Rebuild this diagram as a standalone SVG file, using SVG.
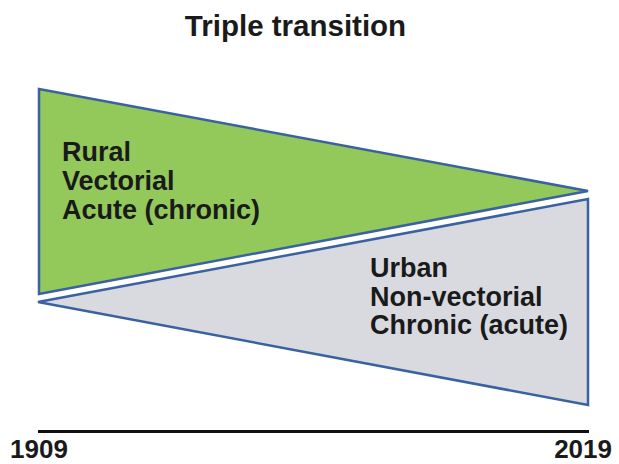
<svg xmlns="http://www.w3.org/2000/svg" width="619" height="464" viewBox="0 0 619 464">
<style>
text{font-family:"Liberation Sans",Arial,sans-serif;font-weight:bold;fill:#1a1a1a}
.lbl{font-size:27px}
.yr{font-size:26px}
.shape{stroke:#3b62a0;stroke-width:2.5;stroke-linejoin:miter}
</style>
<rect width="619" height="464" fill="#ffffff"/>
<g id="title"><text x="295.5" y="36" font-size="29.5" text-anchor="middle">Triple transition</text></g>
<g id="rural">
<polygon class="shape" points="39,89 39,294 588,191" fill="#93c95a"/>
<text class="lbl" x="62" y="161">Rural</text>
<text class="lbl" x="62" y="190">Vectorial</text>
<text class="lbl" x="62" y="219">Acute (chronic)</text>
</g>
<g id="urban">
<polygon class="shape" points="38,302 588,199 588,405" fill="#d9dadf"/>
<text class="lbl" x="370" y="277">Urban</text>
<text class="lbl" x="370" y="306">Non-vectorial</text>
<text class="lbl" x="370" y="334">Chronic (acute)</text>
</g>
<g id="axis">
<line x1="38" y1="431.5" x2="589" y2="431.5" stroke="#111" stroke-width="3"/>
<text class="yr" x="10" y="458">1909</text>
<text class="yr" x="612" y="458" text-anchor="end">2019</text>
</g>
</svg>
